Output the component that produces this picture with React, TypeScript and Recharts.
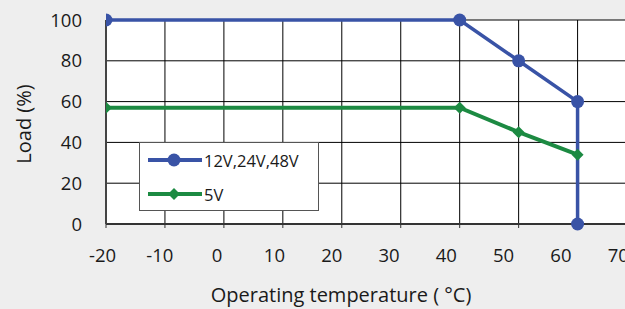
import { LineChart, Line, XAxis, YAxis, CartesianGrid, Legend, Label } from 'recharts'

const TEMPS_HV = [-20, 40, 50, 60, 60]
const LOAD_HV = [100, 100, 80, 60, 0]
const TEMPS_5V = [-20, 40, 50, 60]
const LOAD_5V = [57, 57, 45, 34]
const X_TICKS = [-20, -10, 0, 10, 20, 30, 40, 50, 60, 70]
const Y_TICKS = [0, 20, 40, 60, 80, 100]
const SERIES_NAMES = ['12V,24V,48V', '5V']

const BLUE = '#3953a6'
const GREEN = '#1c8a42'
const FONT = '"Open Sans", sans-serif'

const hvData = TEMPS_HV.map((t, i) => ({ t, load: LOAD_HV[i] }))
const lvData = TEMPS_5V.map((t, i) => ({ t, load: LOAD_5V[i] }))

// the printed labels sit a bit tighter than the grid in the original
function XTick({ x, y, payload }: { x: number; y: number; payload: { value: number } }) {
  return (
    <text x={x * 0.972 - 0.5} y={y} dy="0.71em" textAnchor="middle" fontSize={18.5} fontFamily={FONT} fill="#1a1a1a">
      {payload.value}
    </text>
  )
}

function Diamond({ cx, cy, index }: { cx?: number; cy?: number; index?: number }) {
  if (cx == null || cy == null) return null
  const s = 6
  return <path key={`d-${index}`} d={`M${cx},${cy - s}L${cx + s},${cy}L${cx},${cy + s}L${cx - s},${cy}Z`} fill={GREEN} />
}

function LegendBox() {
  const rows = [
    { name: SERIES_NAMES[0], color: BLUE, top: 18, marker: 'circle' },
    { name: SERIES_NAMES[1], color: GREEN, top: 52, marker: 'diamond' },
  ]
  return (
    <div style={{ position: 'relative', width: 180, height: 69, boxSizing: 'border-box', border: '1px solid #555', background: '#fff', fontFamily: FONT, fontSize: 16.5, color: '#1a1a1a' }}>
      {rows.map((r) => (
        <div key={r.name}>
          <svg width={60} height={16} style={{ position: 'absolute', left: 6, top: r.top - 9 }}>
            <line x1={2} y1={8} x2={56} y2={8} stroke={r.color} strokeWidth={4} />
            {r.marker === 'circle' ? (
              <circle cx={28} cy={8} r={6.5} fill={r.color} />
            ) : (
              <path d="M28,2L34,8L28,14L22,8Z" fill={r.color} />
            )}
          </svg>
          <span style={{ position: 'absolute', left: 64, top: r.top - 12, lineHeight: '24px' }}>{r.name}</span>
        </div>
      ))}
    </div>
  )
}

export default function App() {
  return (
    <div style={{ position: 'absolute', left: 0, top: 0, width: 625, height: 309, overflow: 'hidden', background: '#eeeeee' }}>
      <LineChart width={666} height={309} margin={{ top: 20, right: 0, bottom: 0, left: 0 }}>
        <CartesianGrid stroke="#000" fill="#fff" />
        <XAxis
          dataKey="t"
          type="number"
          domain={[-20, 75]}
          ticks={X_TICKS}
          interval={0}
          allowDataOverflow
          height={85}
          axisLine={{ stroke: '#333', strokeWidth: 2 }}
          tickLine={{ stroke: '#333' }}
          tickSize={4}
          tickMargin={21}
          tick={XTick}
        >
          <Label value="Operating temperature ( °C)" position="insideBottom" offset={7} dx={-45} style={{ fontSize: 20, fontFamily: FONT, fill: '#1a1a1a' }} />
        </XAxis>
        <YAxis
          type="number"
          domain={[0, 100]}
          ticks={Y_TICKS}
          interval={0}
          width={106}
          axisLine={{ stroke: '#444', strokeWidth: 2 }}
          tickLine={false}
          tickMargin={18}
          tick={{ fontSize: 18.5, fontFamily: FONT, fill: '#1a1a1a' }}
        >
          <Label value="Load (%)" angle={-90} position="insideLeft" offset={24} dy={2} style={{ fontSize: 20, fontFamily: FONT, fill: '#1a1a1a', textAnchor: 'middle' }} />
        </YAxis>
        <Legend layout="horizontal" verticalAlign="middle" align="center" wrapperStyle={{ left: 139, top: 142, width: 180, height: 69 }} content={LegendBox} />
        <Line
          data={lvData}
          dataKey="load"
          name={SERIES_NAMES[1]}
          stroke={GREEN}
          strokeWidth={4}
          dot={Diamond}
          activeDot={false}
          isAnimationActive={false}
        />
        <Line
          data={hvData}
          dataKey="load"
          name={SERIES_NAMES[0]}
          stroke={BLUE}
          strokeWidth={3.5}
          dot={{ r: 6.5, fill: BLUE, stroke: BLUE, strokeWidth: 0 }}
          activeDot={false}
          isAnimationActive={false}
        />
      </LineChart>
    </div>
  )
}
